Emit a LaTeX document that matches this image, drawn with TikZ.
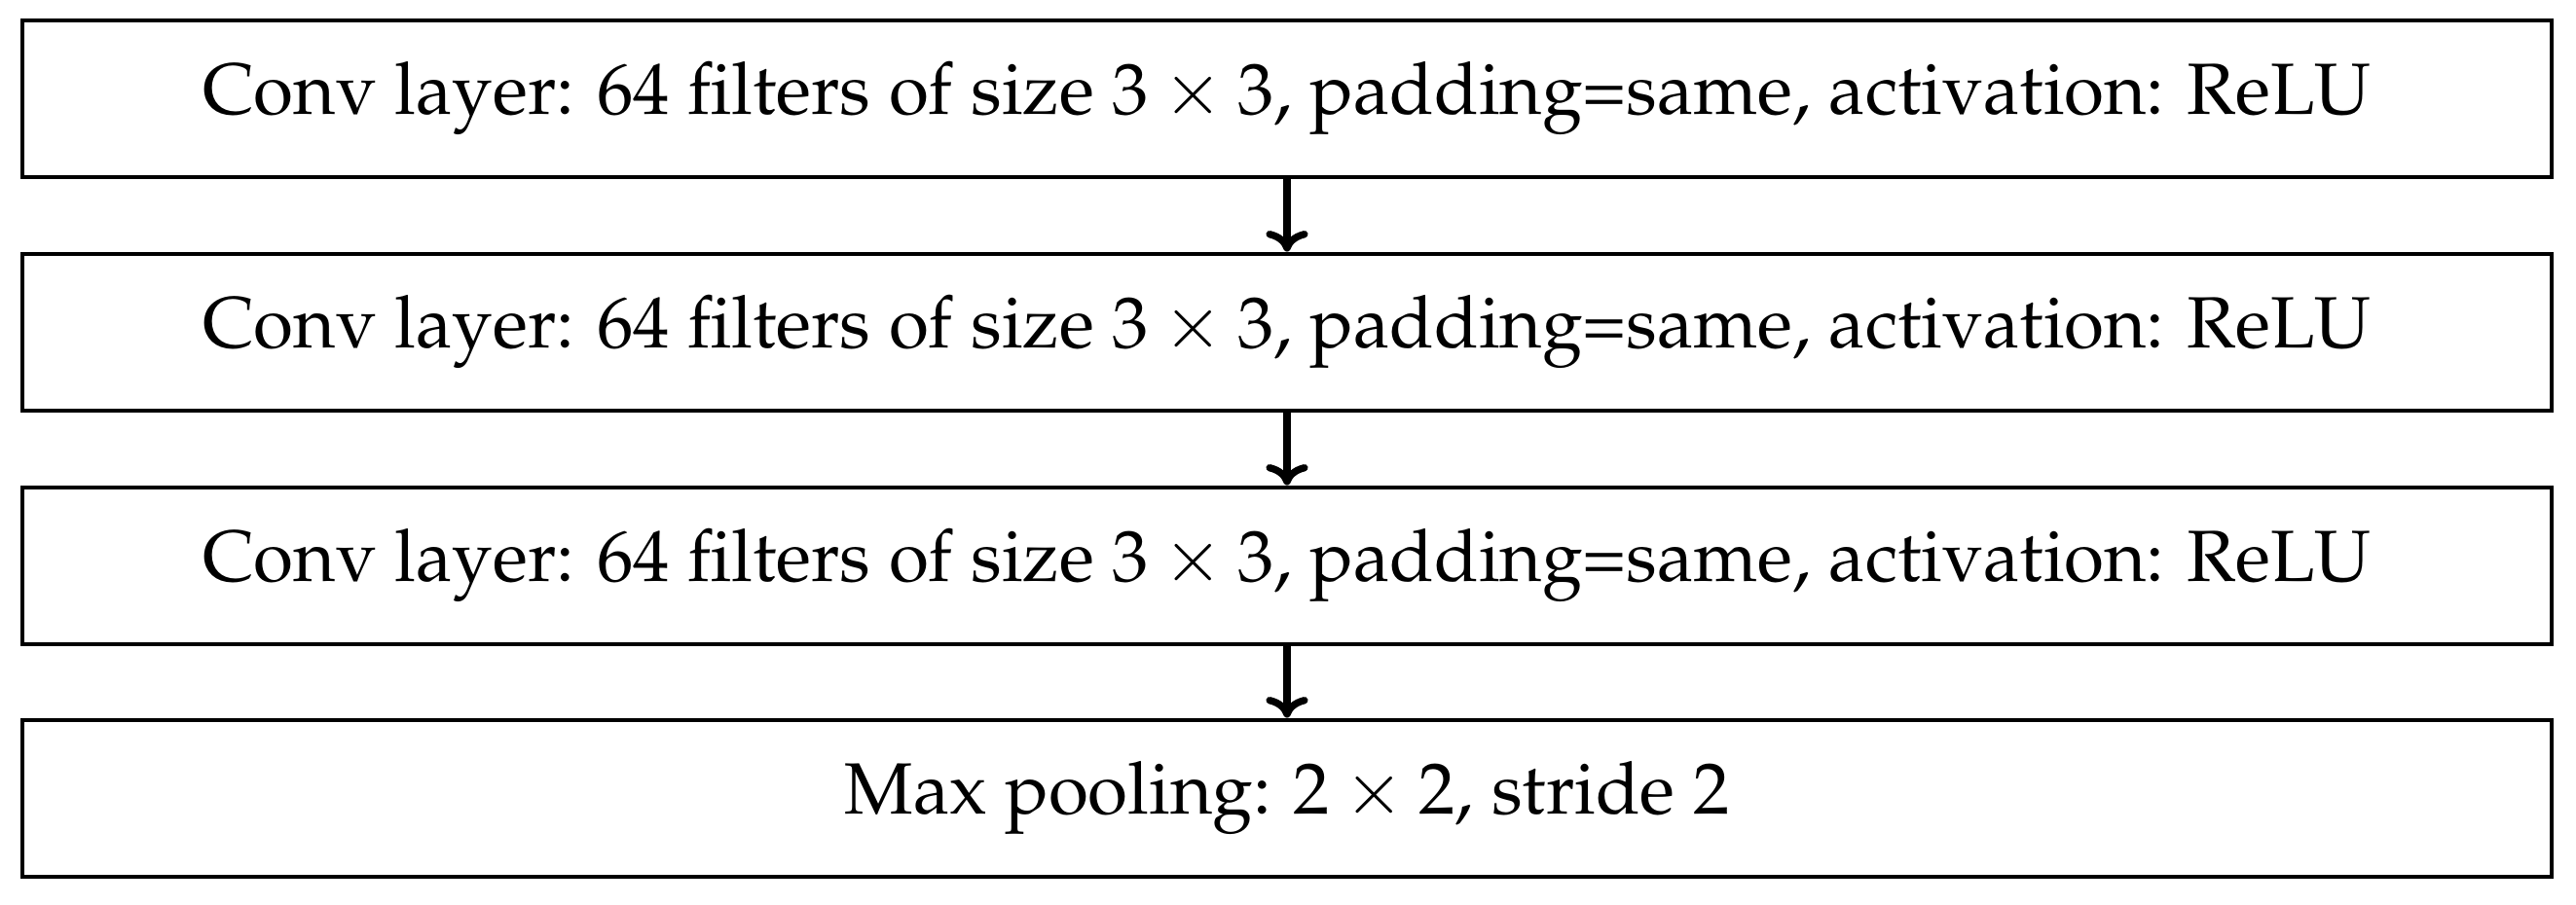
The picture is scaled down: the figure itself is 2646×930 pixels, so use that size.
\documentclass[tikz,border=0pt]{standalone}
\usepackage[T1]{fontenc}
\usepackage{mathpazo}
\usetikzlibrary{arrows.meta}
\begin{document}
\begin{tikzpicture}[x=0.13pt,y=-0.13pt,
  layerbox/.style={draw=black, line width=0.62pt, minimum width=2598*0.13pt, minimum height=161*0.13pt, inner sep=0pt, font=\fontsize{9.7pt}{11.6pt}\selectfont},
  flowarrow/.style={line width=0.95pt, -{Computer Modern Rightarrow[width=5.6pt,length=2.8pt]}}]
\useasboundingbox (0,0) rectangle (2646,930);
\fill[white] (0,0) rectangle (2646,930);
\node[layerbox] (c1) at (1322,101.5) {Conv layer: 64 filters of size $3\times3$, padding=same, activation: ReLU};
\node[layerbox] (c2) at (1322,341.5) {Conv layer: 64 filters of size $3\times3$, padding=same, activation: ReLU};
\node[layerbox] (c3) at (1322,581.5) {Conv layer: 64 filters of size $3\times3$, padding=same, activation: ReLU};
\node[layerbox] (mp) at (1322,820.5) {Max pooling: $2\times2$, stride 2};
\draw[flowarrow] (c1.south) -- (c2.north);
\draw[flowarrow] (c2.south) -- (c3.north);
\draw[flowarrow] (c3.south) -- (mp.north);
\end{tikzpicture}
\end{document}
